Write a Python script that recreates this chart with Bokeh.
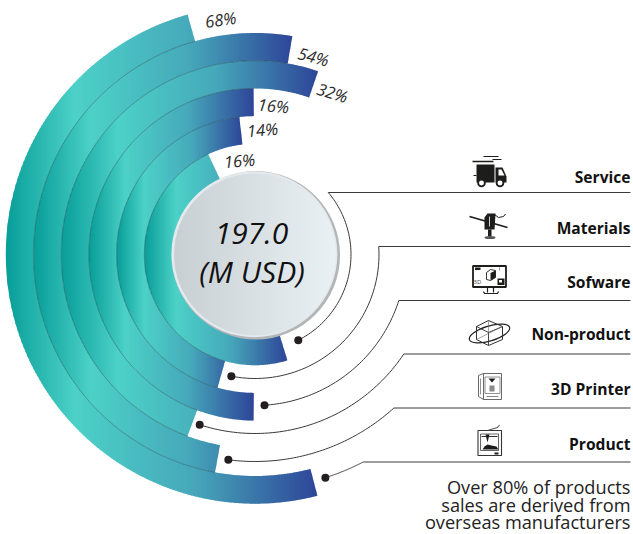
import math
from bokeh.plotting import figure
from bokeh.models import Range1d
from bokeh.core.properties import value
from bokeh.embed import file_html
from bokeh.resources import INLINE

# ---- data (innermost ring first) ----
categories = ["Service", "Materials", "Sofware", "Non-product", "3D Printer", "Product"]
percents = ["16%", "14%", "16%", "32%", "54%", "68%"]
ring_start_bearing = [163.0, 195.7, 180.5, 200.4, 190.4, 165.5]
ring_end_bearing = [335.0, 353.5, 359.5, 379.0, 369.7, 344.3]
center_total = "197.0"
center_unit = "(M USD)"
note_lines = ["Over 80% of products", "sales are derived from", "overseas manufacturers"]

# ---- layout ----
W, H = 633, 534
CX, CY = 254.5, 254.0
R_IN = 83.0
R_STEP = 27.7
FONT = "Open Sans"
GRAD = [(0.0, (7, 157, 152)), (0.22, (76, 209, 199)), (0.6, (70, 168, 186)), (1.0, (46, 69, 152))]


def Y(py):
    return H - py


def polar(r, b):
    a = math.radians(b)
    return CX + r * math.sin(a), CY - r * math.cos(a)


def lerp_color(stops, t):
    t = max(0.0, min(1.0, t))
    for (t0, c0), (t1, c1) in zip(stops, stops[1:]):
        if t <= t1:
            f = (t - t0) / (t1 - t0)
            return "#%02x%02x%02x" % tuple(round(a + (b - a) * f) for a, b in zip(c0, c1))
    return "#%02x%02x%02x" % stops[-1][1]


def clip(poly, xlim, keep_right):
    out = []
    n = len(poly)
    inside = (lambda p: p[0] >= xlim) if keep_right else (lambda p: p[0] <= xlim)
    for i in range(n):
        a, b = poly[i], poly[(i + 1) % n]
        ia, ib = inside(a), inside(b)
        if ia:
            out.append(a)
        if ia != ib:
            f = (xlim - a[0]) / (b[0] - a[0])
            out.append((xlim, a[1] + (b[1] - a[1]) * f))
    return out


def strips(poly, stops, x_lo, x_hi, step=2.0):
    xs, ys, cs = [], [], []
    x = math.floor(min(p[0] for p in poly))
    x_end = max(p[0] for p in poly)
    while x < x_end:
        piece = clip(clip(poly, x, True), x + step + 0.7, False)
        if len(piece) >= 3:
            xs.append([p[0] for p in piece])
            ys.append([Y(p[1]) for p in piece])
            cs.append(lerp_color(stops, (x + step / 2 - x_lo) / (x_hi - x_lo)))
        x += step
    return xs, ys, cs


p = figure(width=W, height=H, x_range=Range1d(0, W), y_range=Range1d(0, H),
           output_backend="svg", toolbar_location=None, min_border=0,
           outline_line_color=None, background_fill_color="white",
           styles={"position": "absolute", "left": "0", "top": "0"})
p.axis.visible = False
p.grid.visible = False

# ---- rings ----
for i in range(5, -1, -1):
    r0 = R_IN + R_STEP * i
    r1 = r0 + R_STEP
    b0, b1 = ring_start_bearing[i], ring_end_bearing[i]
    n = int(b1 - b0) + 1
    bs = [b0 + (b1 - b0) * k / n for k in range(n + 1)]
    poly = [polar(r1, b) for b in bs] + [polar(r0, b) for b in reversed(bs)]
    x_hi = max(q[0] for q in poly)
    xs, ys, cs = strips(poly, GRAD, CX - r1, x_hi)
    p.patches(xs, ys, fill_color=cs, line_color=None)

# shadows along ring boundaries
for i in range(5):
    r = R_IN + R_STEP * (i + 1)
    b0 = max(ring_start_bearing[i], ring_start_bearing[i + 1])
    b1 = min(ring_end_bearing[i], ring_end_bearing[i + 1])
    n = int(b1 - b0) + 1
    pts = [polar(r, b0 + (b1 - b0) * k / n) for k in range(n + 1)]
    p.line([q[0] for q in pts], [Y(q[1]) for q in pts], line_color="#1f4a4f", line_alpha=0.5, line_width=0.9)

# ---- centre disc ----
p.circle([CX + 0.8], [Y(CY + 0.8)], radius=84.2, fill_color="#b3b6b8", line_color=None)
p.circle([CX - 0.6], [Y(CY - 0.3)], radius=83, fill_color="#e3e9ec", line_color=None)
disc = [polar(80.8, k * 2.0) for k in range(180)]
xs, ys, cs = strips(disc, [(0.0, (200, 207, 211)), (1.0, (234, 241, 245))], CX - 81, CX + 81)
p.patches(xs, ys, fill_color=cs, line_color=None)
p.text([CX - 3.5], [Y(233)], text=[center_total], text_font=value(FONT), text_font_style="italic",
       text_font_size="30px", text_align="center", text_baseline="middle", text_color="#111111")
p.text([CX - 3], [Y(271)], text=[center_unit], text_font=value(FONT), text_font_style="italic",
       text_font_size="30px", text_align="center", text_baseline="middle", text_color="#111111")

# ---- percent labels ----
label_x = [239, 262, 273, 332, 313, 220]
label_y = [160, 129, 105, 92, 56, 19]
label_rot = [5, 5, -5, -17, -15, 8]
for t, lx, ly, rot in zip(percents, label_x, label_y, label_rot):
    p.text([lx], [Y(ly)], text=[t], angle=[math.radians(rot)], text_font=value(FONT), text_font_style="italic",
           text_font_size="16.5px", text_align="center", text_baseline="middle", text_color="#2a2a2a")

# ---- connectors ----
rule_y = [192, 246, 300, 353.5, 407.5, 461.5]
conn_r = [96, 124, 151, 179, 207, 234]
dot_bearing = [153.2, 191.0, 176.4, 198.0, 187.4, 162.5]
dxs, dys = [], []
for ry, r, db in zip(rule_y, conn_r, dot_bearing):
    dy = ry - CY
    bt = math.degrees(math.atan2(math.sqrt(r * r - dy * dy), -dy))
    n = 60
    pts = [polar(r, db + (bt - db) * k / n) for k in range(n + 1)]
    lx = [630] + [q[0] for q in reversed(pts)]
    ly = [Y(ry)] + [Y(q[1]) for q in reversed(pts)]
    p.line(lx, ly, line_color="#3a3a3a", line_width=1)
    q = polar(r, db)
    dxs.append(q[0])
    dys.append(Y(q[1]))
p.circle(dxs, dys, radius=4, fill_color="#231f20", line_color=None)

# ---- row labels ----
label_py = [176, 227.5, 281, 333, 388, 443]
p.text([630] * 6, [Y(v) for v in label_py], text=categories, text_font=value(FONT), text_font_style="bold",
       text_font_size="15.6px", text_align="right", text_baseline="middle", text_color="#111111")
p.text([630] * 3, [Y(v) for v in (486, 504, 521.5)], text=note_lines, text_font=value(FONT),
       text_font_size="18.2px", text_align="right", text_baseline="middle", text_color="#222222")

# ---- icons (pixel drawings) ----
K = "#1d1d1b"


def rect(x0, y0, x1, y1, fill=K, line=None, lw=1.0):
    p.patch([x0, x1, x1, x0], [Y(y0), Y(y0), Y(y1), Y(y1)], fill_color=fill, line_color=line, line_width=lw)


def poly(pts, fill=K, line=None, lw=1.0):
    p.patch([a for a, _ in pts], [Y(b) for _, b in pts], fill_color=fill, line_color=line, line_width=lw)


def seg(pts, lw=1.0, col=K):
    p.line([a for a, _ in pts], [Y(b) for _, b in pts], line_color=col, line_width=lw)


def dot(x, y, r, fill=K, line=None, lw=1.0):
    p.circle([x], [Y(y)], radius=r, fill_color=fill, line_color=line, line_width=lw)


# truck
rect(476, 164, 494, 182)
poly([(495, 167), (502, 167), (506, 176), (506, 182), (495, 182)])
poly([(498, 169), (501, 169), (504, 175), (498, 175)], fill="white")
dot(481, 182.5, 3.4, fill="white", line=K, lw=1.8)
dot(499.5, 182.5, 3.4, fill="white", line=K, lw=1.8)
seg([(483, 156), (498, 156)], 1.2)
seg([(492, 159), (501, 159)], 1.2)
seg([(472, 161), (493, 161)], 1.6)
seg([(473, 175), (476, 175)], 1)

# extruder head
seg([(469, 216), (507, 227)], 1.8)
seg([(494, 214), (498, 217), (503, 216), (505, 213.5)], 1)
poly([(484, 217), (487, 213), (495, 213), (494, 229), (484, 229)])
seg([(489, 216), (489, 226)], 0.8, "white")
rect(487.5, 229, 491, 236)
p.ellipse([489.5], [Y(237)], width=11, height=3, fill_color="#555555", line_color=None)

# monitor
rect(472.5, 265.5, 505.5, 286.5, fill="white", line=K, lw=1.8)
rect(474.5, 267, 480, 269.5)
poly([(486, 272), (490, 269), (495, 270), (495, 277), (490, 280), (486, 279)], fill="white", line=K, lw=0.9)
poly([(490, 272.5), (495, 270), (495, 277), (490, 280)])
rect(497, 278, 504, 284.5)
rect(498.5, 279.5, 501.5, 282, fill="white")
seg([(499, 267), (499, 270)], 0.8, "#777777")
p.text([477], [Y(281)], text=["3D"], text_font=value(FONT), text_font_size="6px",
       text_align="center", text_baseline="middle", text_color="#444444")
seg([(487, 287), (487, 292)], 1.2)
seg([(493, 287), (493, 292)], 1.2)
seg([(483, 291), (484, 293), (497, 293), (498, 291)], 1.2)

# cube with orbit
p.ellipse([489], [Y(333)], width=42, height=15, angle=[math.radians(17)],
          fill_color=None, line_color="#222222", line_width=1.2)
hexa = [(488, 320), (502, 326), (502, 339), (488, 345), (476, 339), (476, 326)]
poly(hexa, fill=None, line="#333333", lw=1)
seg([(476, 326), (488, 332), (502, 326)], 0.9, "#333333")
seg([(488, 332), (488, 345)], 0.9, "#333333")
seg([(488, 320), (488, 332)], 0.6, "#666666")
seg([(476, 339), (502, 326)], 0.6, "#666666")

# 3D printer
poly([(478, 375), (483, 373), (501, 373), (501, 399), (483, 399), (478, 396)], fill="white", line="#444444", lw=0.8)
seg([(483, 373), (483, 399)], 0.8, "#444444")
rect(484.5, 376.5, 499.5, 393, fill="white", line="#666666", lw=0.7)
poly([(488, 378), (495, 378), (491.5, 382)])
rect(489, 385, 494, 391, fill="#8a8a8a")
seg([(486, 396), (498, 396)], 1.0, "#888888")
seg([(480, 378), (480, 394)], 0.7, "#666666")

# printer with bed
rect(477.5, 430, 501, 455, fill="white", line="#333333", lw=1.1)
rect(480, 433.5, 498, 450, fill="white", line="#555555", lw=0.9)
seg([(487, 430), (497, 427), (499, 424.5)], 1.2, "#555555")
seg([(481, 436), (497, 436)], 1, "#333333")
poly([(485, 434), (489, 434), (487, 442)])
poly([(482, 449), (498, 449), (496, 446), (491, 445), (487, 444), (484, 446)])
rect(494, 452, 498, 454)

open("out.html", "w").write(file_html(p, INLINE))
